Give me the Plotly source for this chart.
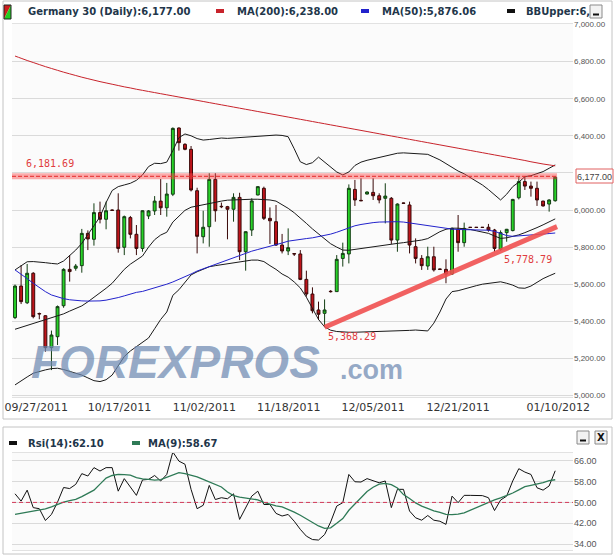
import plotly.graph_objects as go

W, H = 616, 558

# ---------------- data ----------------
open_ = [5420, 5590, 5500, 5659, 5442, 5430, 5258, 5317, 5484, 5680,
         5686, 5700, 5874, 5842, 5986, 5950, 6000, 6000, 5799, 5959,
         5869, 5793, 5968, 5995, 6048, 6012, 6085, 6442, 6354, 6327,
         6104, 5856, 5910, 6165, 6020, 6018, 6004, 6068, 5775, 5892,
         6081, 6117, 5955, 5937, 5811, 5779, 5765, 5763, 5626, 5547,
         5461, 5443, 5562, 5560, 5739, 5763, 6111, 6052, 6086, 6095,
         6077, 6063, 6063, 5838, 6038, 6027, 5802, 5739, 5698, 5748,
         5682, 5680, 5655, 5896, 5824, 5907, 5907, 5907, 5907, 5892,
         5788, 5878, 5889, 6066, 6153, 6129, 6117, 6048, 6032, 6050]
high = [5598, 5703, 5709, 5665, 5447, 5433, 5350, 5485, 5686, 5757,
        5709, 5898, 5890, 6036, 6045, 6045, 6003, 6090, 5970, 5968,
        5919, 5998, 6000, 6075, 6167, 6146, 6445, 6445, 6360, 6345,
        6120, 5996, 6198, 6198, 6040, 6022, 6090, 6093, 5885, 6063,
        6128, 6126, 6014, 6027, 5871, 5901, 5767, 5784, 5673, 5583,
        5506, 5518, 5568, 5757, 5824, 6138, 6162, 6171, 6100, 6171,
        6090, 6144, 6070, 6036, 6040, 6045, 5847, 5757, 5802, 5802,
        5684, 5734, 5905, 5973, 5932, 5908, 5908, 5908, 5925, 5898,
        5890, 5898, 6060, 6180, 6180, 6153, 6153, 6050, 6058, 6180]
low = [5412, 5493, 5493, 5416, 5411, 5236, 5137, 5272, 5473, 5614,
       5673, 5662, 5784, 5808, 5928, 5896, 5996, 5770, 5757, 5847,
       5757, 5775, 5951, 5973, 5973, 5964, 6075, 6320, 6322, 6100,
       5766, 5820, 5802, 5937, 6010, 5842, 5937, 5730, 5673, 5860,
       6079, 5946, 5817, 5806, 5766, 5757, 5752, 5622, 5533, 5443,
       5407, 5368.29, 5555, 5558, 5695, 5712, 6022, 6048, 6084, 6054,
       6036, 5928, 5817, 5775, 6034, 5766, 5712, 5677, 5677, 5668,
       5678, 5605, 5650, 5775, 5802, 5905, 5905, 5905, 5883, 5775,
       5779, 5829, 5885, 6057, 6108, 6072, 6022, 6018, 5991, 6045]
close = [5590, 5506, 5659, 5425, 5440, 5258, 5326, 5479, 5680, 5668,
         5698, 5874, 5844, 5986, 5950, 5996, 5998, 5793, 5964, 5869,
         5793, 5996, 5995, 6048, 6012, 6086, 6440, 6363, 6327, 6108,
         5858, 5907, 6165, 5996, 6018, 6004, 6068, 5775, 5883, 6049,
         6126, 5955, 5942, 5811, 5779, 5797, 5763, 5626, 5547, 5457,
         5438, 5461, 5560, 5734, 5766, 6117, 6054, 6050, 6097, 6077,
         6054, 6075, 5838, 6032, 6036, 5811, 5739, 5700, 5748, 5677,
         5680, 5655, 5901, 5824, 5901, 5906, 5906, 5906, 5892, 5793,
         5878, 5896, 6057, 6153, 6129, 6117, 6054, 6022, 6054, 6177]

ma200 = [6830, 6818, 6806, 6795, 6784, 6773, 6763, 6753, 6743, 6734,
         6725, 6716, 6708, 6700, 6692, 6685, 6678, 6671, 6664, 6658,
         6651, 6645, 6639, 6633, 6627, 6621, 6615, 6609, 6603, 6597,
         6591, 6585, 6579, 6573, 6567, 6561, 6555, 6549, 6543, 6537,
         6531, 6525, 6519, 6513, 6507, 6501, 6495, 6489, 6483, 6477,
         6471, 6465, 6459, 6453, 6447, 6441, 6435, 6429, 6423, 6417,
         6411, 6405, 6399, 6393, 6387, 6381, 6375, 6369, 6363, 6357,
         6351, 6345, 6339, 6333, 6327, 6321, 6315, 6309, 6303, 6297,
         6291, 6285, 6279, 6273, 6267, 6260, 6254, 6248, 6243, 6238]
ma50 = [5677, 5655, 5630, 5605, 5580, 5560, 5542, 5530, 5522, 5516,
        5512, 5510, 5509, 5509, 5510, 5514, 5520, 5528, 5537, 5548,
        5556, 5561, 5570, 5580, 5590, 5600, 5612, 5625, 5640, 5655,
        5671, 5683, 5695, 5708, 5720, 5733, 5745, 5757, 5768, 5778,
        5787, 5795, 5803, 5812, 5822, 5832, 5838, 5842, 5846, 5850,
        5856, 5862, 5870, 5880, 5892, 5905, 5915, 5922, 5928, 5932,
        5935, 5937, 5938, 5937, 5935, 5930, 5925, 5920, 5915, 5910,
        5905, 5900, 5897, 5895, 5894, 5893, 5892, 5892, 5891, 5885,
        5875, 5862, 5858, 5860, 5862, 5864, 5867, 5870, 5873, 5876.06]
bb_upper = [5677, 5700, 5721, 5722, 5721, 5716, 5712, 5709, 5725, 5755,
            5784, 5820, 5865, 5915, 5964, 6040, 6105, 6126, 6135, 6144,
            6160, 6189, 6234, 6252, 6250, 6258, 6320, 6390, 6410, 6400,
            6385, 6377, 6380, 6385, 6388, 6386, 6388, 6392, 6395, 6396,
            6398, 6400, 6402, 6404, 6402, 6395, 6330, 6260, 6245, 6255,
            6285, 6260, 6230, 6205, 6189, 6205, 6240, 6258, 6268, 6275,
            6282, 6290, 6300, 6306, 6308, 6306, 6303, 6302, 6300, 6285,
            6270, 6250, 6230, 6210, 6195, 6175, 6155, 6135, 6110, 6080,
            6054, 6085, 6126, 6150, 6180, 6185, 6195, 6207, 6225, 6243]
bb_mid = [5357, 5367, 5378, 5388, 5398, 5408, 5420, 5430, 5440, 5455,
          5470, 5483, 5505, 5528, 5551, 5578, 5605, 5640, 5680, 5708,
          5730, 5752, 5800, 5840, 5865, 5880, 5935, 5965, 5998, 6015,
          6022, 6030, 6036, 6042, 6048, 6053, 6055, 6056, 6057, 6058,
          6058, 6057, 6054, 6048, 6030, 6009, 5985, 5958, 5928, 5898,
          5870, 5845, 5818, 5800, 5784, 5783, 5788, 5793, 5798, 5803,
          5808, 5811, 5815, 5820, 5824, 5828, 5832, 5838, 5846, 5865,
          5883, 5896, 5902, 5902, 5900, 5895, 5888, 5880, 5874, 5860,
          5847, 5850, 5856, 5866, 5878, 5890, 5905, 5920, 5936, 5952]
bb_lower = [5057, 5080, 5100, 5120, 5130, 5138, 5145, 5147, 5140, 5130,
            5122, 5110, 5095, 5080, 5075, 5085, 5110, 5160, 5210, 5240,
            5265, 5290, 5310, 5360, 5410, 5450, 5540, 5570, 5610, 5650,
            5667, 5680, 5694, 5700, 5705, 5709, 5715, 5722, 5728, 5730,
            5730, 5722, 5700, 5680, 5655, 5638, 5612, 5580, 5530, 5470,
            5410, 5370, 5352, 5345, 5342, 5341, 5341, 5342, 5342, 5343,
            5344, 5344, 5345, 5347, 5349, 5351, 5353, 5350, 5348, 5390,
            5450, 5520, 5560, 5565, 5575, 5585, 5592, 5600, 5605, 5612,
            5613, 5605, 5595, 5580, 5578, 5590, 5610, 5630, 5645, 5659]

rsi14 = [53.3, 50.5, 54.7, 48.0, 47.6, 43.1, 45.4, 50.1, 55.7, 55.3,
         56.9, 61.0, 60.1, 63.3, 62.0, 63.3, 63.3, 54.3, 59.1, 56.0,
         52.7, 58.6, 58.8, 60.3, 58.2, 60.7, 69.3, 65.8, 64.6, 55.0,
         47.6, 48.9, 56.5, 51.1, 51.8, 51.4, 53.3, 43.5, 48.0, 52.4,
         54.3, 49.2, 49.2, 45.8, 44.8, 45.4, 42.8, 39.7, 37.1, 35.8,
         35.6, 37.7, 42.5, 48.6, 49.9, 60.7, 57.9, 57.8, 59.1, 58.2,
         57.5, 58.2, 48.0, 55.0, 55.0, 46.7, 44.1, 43.2, 45.0, 43.2,
         42.8, 41.6, 52.4, 49.9, 52.7, 52.7, 52.7, 52.6, 51.8, 46.9,
         50.9, 52.4, 58.2, 62.9, 61.6, 60.7, 55.6, 54.7, 56.3, 62.1]
rsi_ma9 = [45.4, 45.8, 46.4, 46.8, 47.2, 47.5, 48.3, 49.3, 50.1, 50.7,
           51.2, 52.2, 53.4, 54.7, 57.0, 59.3, 60.3, 60.7, 60.6, 60.4,
           59.5, 59.0, 58.8, 58.5, 58.7, 59.5, 60.6, 61.4, 61.0, 60.4,
           59.8, 58.8, 57.9, 56.9, 55.9, 54.0, 52.6, 52.0, 51.6, 51.4,
           51.0, 50.0, 49.3, 48.7, 48.3, 47.4, 46.3, 45.1, 43.8, 42.6,
           41.0, 40.1, 40.3, 42.0, 43.8, 47.0, 49.5, 52.0, 54.2, 55.8,
           57.0, 57.3, 56.8, 55.5, 53.0, 51.5, 49.8, 48.6, 47.6, 46.8,
           46.2, 45.4, 45.3, 45.5, 46.0, 47.0, 48.0, 49.1, 50.1, 51.0,
           51.7, 52.6, 53.6, 54.8, 56.0, 56.5, 57.0, 57.6, 58.3, 58.67]

date_tick_pos = [3.5, 17.2, 31.2, 45.1, 59.0, 73.0, 89.5]
date_labels = ['09/27/2011', '10/17/2011', '11/02/2011', '11/18/2011',
               '12/05/2011', '12/21/2011', '01/10/2012']
price_ticks = [5000, 5200, 5400, 5600, 5800, 6000, 6200, 6400, 6600, 6800, 7000]
rsi_ticks = [34, 42, 50, 58, 66]

resistance = 6181.69
trend_idx = [51, 80]
trend_val = [5368.29, 5778.79]
last_close = 6177.00
ma200_last, ma50_last = 6238.00, 5876.06
rsi_last, rsi_ma_last = 62.10, 58.67

days = list(range(len(close)))


# ---------------- helpers (pixel -> paper) ----------------
def PX(x):
    return x / W


def PY(y):
    return 1 - y / H


fig = go.Figure()

for series in (bb_lower, bb_mid, bb_upper):
    fig.add_trace(go.Scatter(x=days, y=series, mode='lines',
                             line=dict(color='#1a1a1a', width=1), hoverinfo='skip'))
fig.add_trace(go.Scatter(x=days, y=ma50, mode='lines',
                         line=dict(color='#2222cc', width=1), hoverinfo='skip'))
fig.add_trace(go.Scatter(x=days, y=ma200, mode='lines', line_shape='spline',
                         line=dict(color='#c8232b', width=1), hoverinfo='skip'))

fig.add_trace(go.Candlestick(
    x=days, open=open_, high=high, low=low, close=close,
    increasing=dict(fillcolor='#27d327', line=dict(color='#123d12', width=1)),
    decreasing=dict(fillcolor='#c0141b', line=dict(color='#3a0909', width=1)),
    whiskerwidth=0, hoverinfo='skip'))

# resistance level
x_ext = [days[0] - 0.5, days[-1] + 0.3]
fig.add_trace(go.Scatter(x=x_ext, y=[resistance, resistance], mode='lines',
                         line=dict(color='rgba(250,70,70,0.45)', width=6), hoverinfo='skip'))
fig.add_trace(go.Scatter(x=x_ext, y=[resistance, resistance], mode='lines',
                         line=dict(color='#e52a2a', width=1, dash='4px,2px'), hoverinfo='skip'))

# support trend line through the two marked lows, extended to the last bar
slope = (trend_val[1] - trend_val[0]) / (trend_idx[1] - trend_idx[0])
t_end = days[-1] + 0.3
fig.add_trace(go.Scatter(x=[trend_idx[0], t_end],
                         y=[trend_val[0], trend_val[0] + slope * (t_end - trend_idx[0])],
                         mode='lines', line=dict(color='rgba(240,80,80,0.9)', width=5),
                         hoverinfo='skip'))

# RSI panel
fig.add_trace(go.Scatter(x=days, y=rsi14, mode='lines', xaxis='x2', yaxis='y2',
                         line=dict(color='#111111', width=1), hoverinfo='skip'))
fig.add_trace(go.Scatter(x=days, y=rsi_ma9, mode='lines', xaxis='x2', yaxis='y2',
                         line=dict(color='#2e7a56', width=1.3), hoverinfo='skip'))

xr = [-0.5, 91.93]
xdom = [PX(12), PX(573)]
price_text = ['' if v == 6200 else f'{v:,.2f}' for v in price_ticks]  # 6,200 is hidden by the price tag
fig.update_layout(
    width=W, height=H, margin=dict(l=0, r=0, t=0, b=0, autoexpand=False),
    paper_bgcolor='white', plot_bgcolor='#fbfbfb', showlegend=False,
    boxgap=0.32,
    xaxis=dict(domain=xdom, range=xr, anchor='y', rangeslider=dict(visible=False),
               automargin=False,
               tickmode='array', tickvals=date_tick_pos, ticktext=date_labels,
               showgrid=False, zeroline=False, ticks='', showline=True, mirror=True,
               linecolor='#e2e2e2',
               tickfont=dict(family='DejaVu Sans', size=11, color='#333333')),
    yaxis=dict(domain=[PY(397), PY(24)], range=[4991.9, 7002.7], side='right',
               automargin=False,
               tickmode='array', tickvals=price_ticks, ticktext=price_text,
               gridcolor='#dadada', zeroline=False, ticks='', showline=False,
               tickfont=dict(family='Liberation Sans', size=8, color='#555555')),
    xaxis2=dict(domain=xdom, range=xr, anchor='y2', showticklabels=False,
                automargin=False,
                showgrid=False, zeroline=False, ticks='', showline=True, mirror=True,
                linecolor='#e2e2e2'),
    yaxis2=dict(domain=[PY(550), PY(453)], range=[31.8, 68.9], side='right', anchor='x2',
                automargin=False,
                tickmode='array', tickvals=rsi_ticks,
                ticktext=[f'{v:.2f}' for v in rsi_ticks],
                gridcolor='#dadada', zeroline=False, ticks='', showline=False,
                tickfont=dict(family='Liberation Sans', size=9, color='#555555')),
)

shapes = []
annos = []

# panel frames
shapes.append(dict(type='rect', xref='paper', yref='paper', x0=PX(3), x1=PX(612),
                   y0=PY(419), y1=PY(1), line=dict(color='#c4c4c4', width=1), layer='below'))
shapes.append(dict(type='rect', xref='paper', yref='paper', x0=PX(3), x1=PX(612),
                   y0=PY(554), y1=PY(427), line=dict(color='#c4c4c4', width=1), layer='below'))

# RSI 50 reference line
shapes.append(dict(type='line', xref='paper', yref='y2', x0=xdom[0], x1=xdom[1], y0=50, y1=50,
                   line=dict(color='#d43a5a', width=1, dash='4px,3px')))

# watermark
wm_col = 'rgba(110,138,178,0.72)'
annos.append(dict(text='FOREXPROS', xref='paper', yref='paper', x=PX(29), y=PY(362),
                  xanchor='left', yanchor='middle', showarrow=False,
                  font=dict(family='Liberation Sans', size=46, color=wm_col,
                            weight='bold', style='italic')))
annos.append(dict(text='.com', xref='paper', yref='paper', x=PX(338), y=PY(370),
                  xanchor='left', yanchor='middle', showarrow=False,
                  font=dict(family='Liberation Sans', size=27, color=wm_col, weight='bold')))

# level labels
lab_font = dict(family='DejaVu Sans Mono', size=10, color='#e03c40')
annos.append(dict(text=f'{resistance:,.2f}', xref='x', yref='y', x=1.5, y=resistance,
                  xanchor='left', yanchor='middle', yshift=13, showarrow=False, font=lab_font))
annos.append(dict(text=f'{trend_val[0]:,.2f}', xref='x', yref='y', x=trend_idx[0] + 0.2,
                  y=trend_val[0], xanchor='left', yanchor='middle', yshift=-9,
                  showarrow=False, font=lab_font))
annos.append(dict(text=f'{trend_val[1]:,.2f}', xref='x', yref='y', x=trend_idx[1] + 0.2,
                  y=trend_val[1], xanchor='left', yanchor='middle', yshift=-8,
                  showarrow=False, font=lab_font))

# last price tag
shapes.append(dict(type='rect', xref='paper', yref='paper', x0=PX(576), x1=PX(613),
                   y0=PY(183), y1=PY(169), fillcolor='white',
                   line=dict(color='#e06060', width=1)))
annos.append(dict(text=f'{last_close:,.2f}', xref='paper', yref='y', x=PX(594.5), y=last_close,
                  xanchor='center', yanchor='middle', showarrow=False,
                  font=dict(family='Liberation Sans', size=9, color='#444444')))

# header (main panel)
hfont = dict(family='DejaVu Sans', size=10, color='#22364a', weight='bold')
shapes.append(dict(type='path', xref='paper', yref='paper',
                   path=f'M {PX(4)} {PY(5)} L {PX(11)} {PY(5)} L {PX(4)} {PY(19)} Z',
                   fillcolor='#cc1d1d', line=dict(width=0)))
shapes.append(dict(type='path', xref='paper', yref='paper',
                   path=f'M {PX(11)} {PY(5)} L {PX(11)} {PY(19)} L {PX(4)} {PY(19)} Z',
                   fillcolor='#22cc22', line=dict(width=0)))
shapes.append(dict(type='rect', xref='paper', yref='paper', x0=PX(4), x1=PX(11),
                   y0=PY(19), y1=PY(5), line=dict(color='#222222', width=1)))
annos.append(dict(text=f'Germany 30 (Daily):{last_close:,.2f}', xref='paper', yref='paper',
                  x=PX(26), y=PY(11), xanchor='left', yanchor='middle', showarrow=False,
                  font=hfont))
legend_items = [(216, '#c8232b', f'MA(200):{ma200_last:,.2f}', 235),
                (361, '#2222cc', f'MA(50):{ma50_last:,.2f}', 380),
                (507, '#111111', 'BBUpper:6,', 524)]
for dx, col, txt, tx in legend_items:
    shapes.append(dict(type='rect', xref='paper', yref='paper', x0=PX(dx), x1=PX(dx + 8),
                       y0=PY(13), y1=PY(9), fillcolor=col, line=dict(width=0)))
    annos.append(dict(text=txt, xref='paper', yref='paper', x=PX(tx), y=PY(11),
                      xanchor='left', yanchor='middle', showarrow=False, font=hfont))


def button(x0, y0, kind):
    shapes.append(dict(type='rect', xref='paper', yref='paper', x0=PX(x0), x1=PX(x0 + 12),
                       y0=PY(y0 + 13), y1=PY(y0), fillcolor='#f2f2f2',
                       line=dict(color='#8a8a8a', width=1)))
    if kind == 'min':
        shapes.append(dict(type='line', xref='paper', yref='paper', x0=PX(x0 + 3),
                           x1=PX(x0 + 9), y0=PY(y0 + 9.5), y1=PY(y0 + 9.5),
                           line=dict(color='#111111', width=2)))
    else:
        annos.append(dict(text='X', xref='paper', yref='paper', x=PX(x0 + 6), y=PY(y0 + 6.5),
                          xanchor='center', yanchor='middle', showarrow=False,
                          font=dict(family='DejaVu Sans', size=10, color='#111111',
                                    weight='bold')))


button(590, 5, 'min')
button(577, 431, 'min')
button(595, 431, 'close')

# header (RSI panel)
shapes.append(dict(type='rect', xref='paper', yref='paper', x0=PX(9), x1=PX(17),
                   y0=PY(445), y1=PY(441), fillcolor='#111111', line=dict(width=0)))
annos.append(dict(text=f'Rsi(14):{rsi_last:.2f}', xref='paper', yref='paper', x=PX(26),
                  y=PY(443), xanchor='left', yanchor='middle', showarrow=False, font=hfont))
shapes.append(dict(type='rect', xref='paper', yref='paper', x0=PX(132), x1=PX(140),
                   y0=PY(445), y1=PY(441), fillcolor='#2e7a56', line=dict(width=0)))
annos.append(dict(text=f'MA(9):{rsi_ma_last:.2f}', xref='paper', yref='paper', x=PX(146),
                  y=PY(443), xanchor='left', yanchor='middle', showarrow=False, font=hfont))

fig.update_layout(shapes=shapes, annotations=annos)
fig.write_html('out.html', config={'displayModeBar': False},
               post_script="document.body.style.margin='0';document.body.style.overflow='hidden';")
